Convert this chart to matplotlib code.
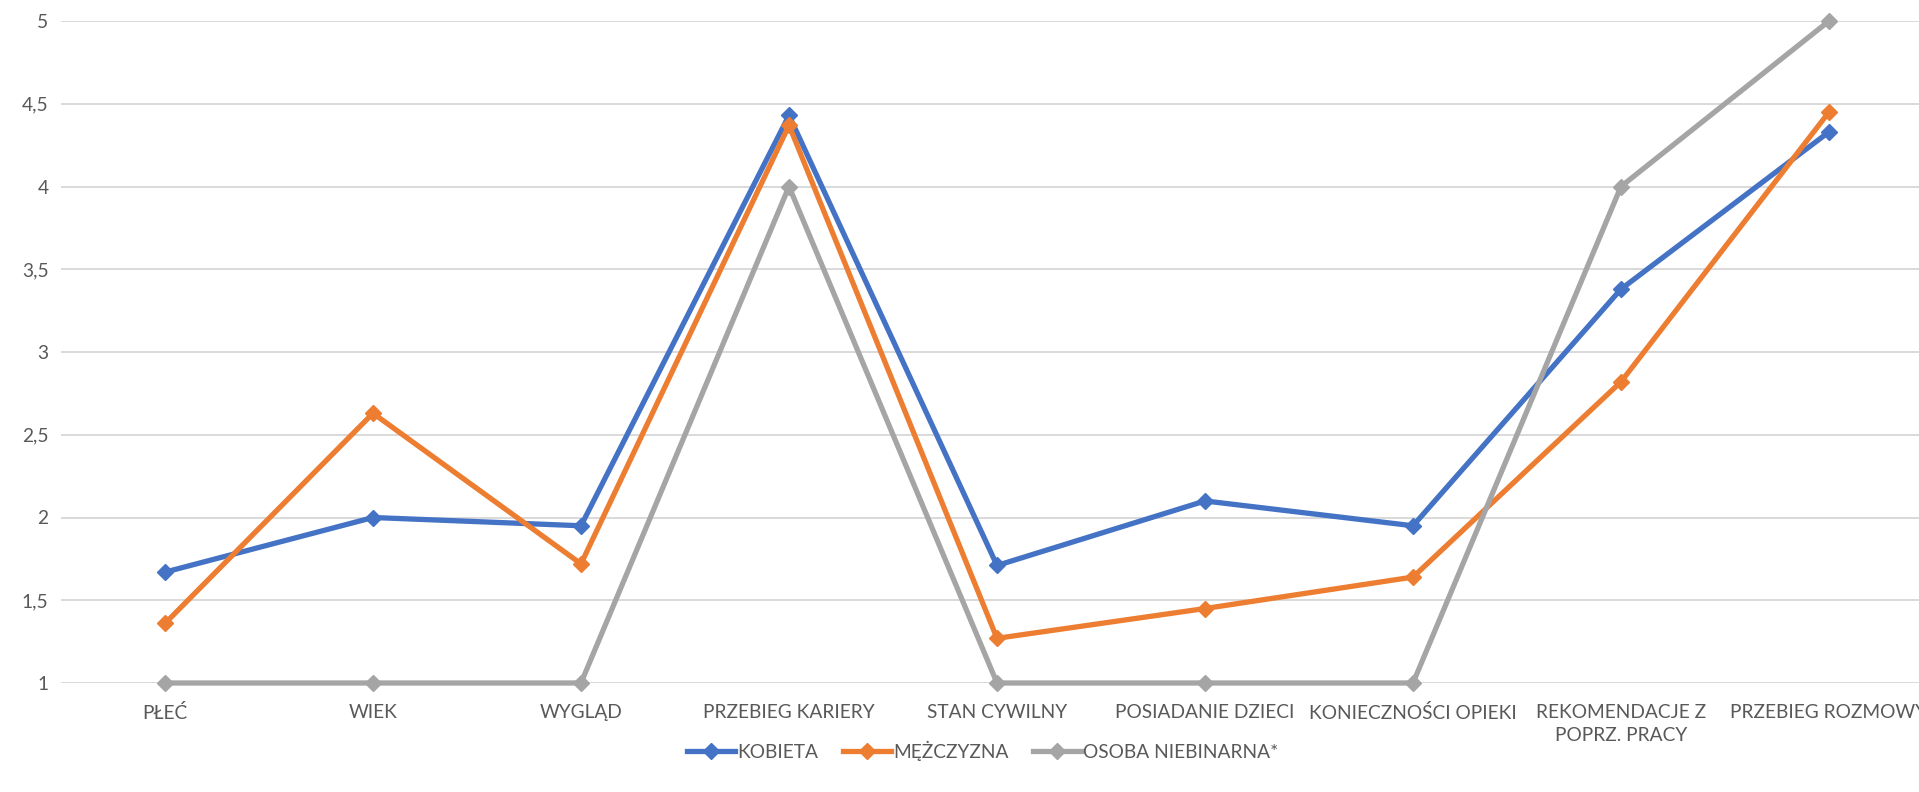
import numpy as np
import matplotlib.pyplot as plt
from matplotlib.ticker import FuncFormatter

# kategorie i wartości
kategorie = ["PŁEĆ", "WIEK", "WYGLĄD", "PRZEBIEG KARIERY", "STAN CYWILNY",
             "POSIADANIE DZIECI", "KONIECZNOŚCI OPIEKI",
             "REKOMENDACJE Z\nPOPRZ. PRACY", "PRZEBIEG ROZMOWY"]
kobieta = [1.67, 2.0, 1.95, 4.43, 1.71, 2.1, 1.95, 3.38, 4.33]
mezczyzna = [1.36, 2.63, 1.72, 4.37, 1.27, 1.45, 1.64, 2.82, 4.45]
niebinarna = [1, 1, 1, 4, 1, 1, 1, 4, 5]

serie = ["KOBIETA", "MĘŻCZYZNA", "OSOBA NIEBINARNA*"]
kolory = ["#4472C4", "#ED7D31", "#A5A5A5"]
y_ticks = [1, 1.5, 2, 2.5, 3, 3.5, 4, 4.5, 5]

plt.rcParams['font.family'] = ['Lato', 'DejaVu Sans']
tekst = "#595959"
rozmiar = 13.8

fig = plt.figure(figsize=(19.19, 7.92), dpi=100)
# prawa krawędź osi wychodzi poza obrazek (jak w oryginale)
ax = fig.add_axes([61 / 1919, (792 - 683) / 792, 1872 / 1919, (683 - 21) / 792])

x = np.arange(len(kategorie))
for dane, nazwa, kol in zip([kobieta, mezczyzna, niebinarna], serie, kolory):
    ax.plot(x, dane, color=kol, lw=3.8, marker="D", markersize=8,
            label=nazwa, solid_joinstyle="miter", zorder=3, clip_on=False)

ax.set_xlim(-0.5, len(kategorie) - 0.5)
ax.set_ylim(1, 5)
ax.set_yticks(y_ticks)
ax.yaxis.set_major_formatter(FuncFormatter(lambda v, p: f"{v:g}".replace(".", ",")))
ax.set_xticks(x)
ax.set_xticklabels(kategorie, linespacing=1.45)
ax.tick_params(axis="both", length=0, colors=tekst, labelsize=rozmiar)
ax.tick_params(axis="x", pad=15)
ax.tick_params(axis="y", pad=9)
ax.grid(axis="y", color="#D9D9D9", lw=1.4, zorder=0)
ax.set_axisbelow(True)
for s in ax.spines.values():
    s.set_visible(False)

fig.legend(loc="center", bbox_to_anchor=(983 / 1919, 1 - 751 / 792), ncol=3,
           frameon=False, fontsize=rozmiar, labelcolor=tekst, handlelength=2.5,
           handletextpad=0.1, columnspacing=1.3)

fig.savefig("out.png", dpi=100)
